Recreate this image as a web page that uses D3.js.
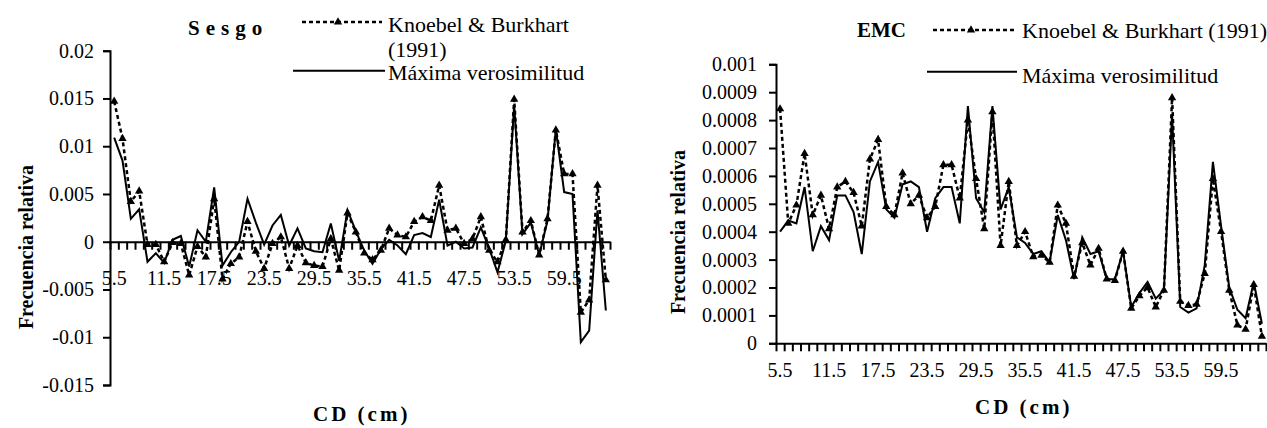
<!DOCTYPE html>
<html><head><meta charset="utf-8">
<script src="https://cdn.jsdelivr.net/npm/d3@7/dist/d3.min.js"></script>
<style>
html,body{margin:0;padding:0;background:#fff;}
svg{display:block;}
text{font-family:"Liberation Serif","Times New Roman",serif;fill:#000;}
</style></head>
<body>
<svg id="c" width="1267" height="428"></svg>
<script>
const categories = [5.5,6.5,7.5,8.5,9.5,10.5,11.5,12.5,13.5,14.5,15.5,16.5,17.5,18.5,19.5,20.5,21.5,22.5,23.5,24.5,25.5,26.5,27.5,28.5,29.5,30.5,31.5,32.5,33.5,34.5,35.5,36.5,37.5,38.5,39.5,40.5,41.5,42.5,43.5,44.5,45.5,46.5,47.5,48.5,49.5,50.5,51.5,52.5,53.5,54.5,55.5,56.5,57.5,58.5,59.5,60.5,61.5,62.5,63.5,64.5];
const xTickLabels = ["5.5","11.5","17.5","23.5","29.5","35.5","41.5","47.5","53.5","59.5"];
const seriesNames = ["Knoebel & Burkhart (1991)","Máxima verosimilitud"];

const sesgoKB = [0.0147,0.0108,0.0042,0.0053,-0.0003,-0.0003,-0.0021,-0.0001,-0.0002,-0.0035,
 -0.0005,-0.0016,0.0045,-0.0039,-0.0023,-0.0016,0.0021,-0.0010,-0.0028,-0.0002,
 0.0005,-0.0028,-0.0004,-0.0022,-0.0025,-0.0026,0.0003,-0.0030,0.0030,0.0010,
 -0.0012,-0.0019,-0.0009,0.0014,0.0007,0.0005,0.0021,0.0026,0.0022,0.0059,
 0.0012,0.0014,-0.0002,0.0003,0.0026,-0.0009,-0.0021,0.0002,0.0149,0.0010,
 0.0022,-0.0014,0.0024,0.0117,0.0071,0.0071,-0.0074,-0.0061,0.0059,-0.0040];
const sesgoML = [0.0109,0.0085,0.0024,0.0034,-0.0021,-0.0012,-0.0022,0.0002,0.0006,-0.0026,
 0.0012,0.0000,0.0057,-0.0025,-0.0011,0.0000,0.0045,0.0020,-0.0003,0.0017,
 0.0028,-0.0004,0.0014,-0.0007,-0.0010,-0.0011,0.0019,-0.0020,0.0033,0.0011,
 -0.0009,-0.0023,-0.0008,0.0002,-0.0004,-0.0013,0.0007,0.0009,0.0005,0.0044,
 -0.0004,0.0000,-0.0007,-0.0006,0.0015,-0.0007,-0.0032,0.0001,0.0143,0.0008,
 0.0020,-0.0014,0.0022,0.0118,0.0052,0.0050,-0.0105,-0.0093,0.0033,-0.0072];
const emcKB = [0.00084,0.00043,0.000495,0.00068,0.00046,0.00053,0.00041,0.00056,0.00058,0.00054,
 0.00042,0.00066,0.00073,0.00049,0.00046,0.00061,0.00050,0.00053,0.00045,0.00049,
 0.00064,0.00064,0.00052,0.00080,0.00059,0.00041,0.00083,0.00035,0.00058,0.00035,
 0.00040,0.00031,0.000315,0.00029,0.000495,0.00043,0.00024,0.00036,0.00028,0.00034,
 0.00023,0.000225,0.00033,0.000125,0.00017,0.00020,0.00013,0.00019,0.00088,0.00015,
 0.000135,0.00014,0.00025,0.00059,0.00040,0.00019,0.000065,0.00005,0.00021,0.000025];
const emcML = [0.00040,0.00044,0.00043,0.00056,0.00033,0.00042,0.00037,0.00053,0.00053,0.00047,
 0.00032,0.00058,0.00065,0.00048,0.00045,0.00057,0.00058,0.00056,0.00040,0.00052,
 0.00056,0.00056,0.00043,0.00085,0.00052,0.00047,0.00085,0.00048,0.00056,0.00038,
 0.00036,0.00032,0.00033,0.00029,0.00046,0.00037,0.00023,0.00038,0.00032,0.00033,
 0.00023,0.00023,0.00033,0.00013,0.00018,0.00022,0.00016,0.00019,0.00082,0.00013,
 0.00011,0.000125,0.00028,0.00065,0.00042,0.00020,0.00012,0.00009,0.00022,0.00007];

const sesgoTicks = [0.02,0.015,0.01,0.005,0,-0.005,-0.01,-0.015];
const sesgoTickLabels = ["0.02","0.015","0.01","0.005","0","-0.005","-0.01","-0.015"];
const emcTicks = [0.001,0.0009,0.0008,0.0007,0.0006,0.0005,0.0004,0.0003,0.0002,0.0001,0];
const emcTickLabels = ["0.001","0.0009","0.0008","0.0007","0.0006","0.0005","0.0004","0.0003","0.0002","0.0001","0"];

const svg = d3.select("#c");

function panel(o){
  const g = svg.append("g");
  const x = d3.scaleBand().domain(categories).range([o.x0,o.x1]);
  const xb = d3.scaleLinear().domain([0,categories.length]).range([o.x0,o.x1]);
  const y = d3.scaleLinear().domain([o.yMin,o.yMax]).range([o.yB,o.yT]);
  const cx = d => x(d)+x.bandwidth()/2;

  // y axis
  const ya = g.append("g").attr("transform",`translate(${o.x0},0)`)
    .call(d3.axisLeft(y).tickValues(o.ticks).tickFormat((d,i)=>o.tickLabels[i]).tickSize(7).tickPadding(o.yPad));
  ya.selectAll("text").style("font-size","20px");
  ya.select(".domain").attr("stroke-width",2);
  ya.selectAll(".tick line").attr("stroke-width",2);

  // x axis (category boundaries)
  const y0 = y(0);
  const xa = g.append("g").attr("transform",`translate(0,${y0})`)
    .call(d3.axisBottom(xb).tickValues(d3.range(0,categories.length+1)).tickFormat("").tickSize(8).tickSizeOuter(0));
  xa.select(".domain").attr("stroke-width",2);
  xa.selectAll(".tick line").attr("stroke-width",2);
  const xl = g.append("g").attr("transform",`translate(0,${y0})`)
    .call(d3.axisBottom(x).tickValues(categories.filter(c=>xTickLabels.includes(String(c)))).tickFormat(d=>String(d)).tickSize(0).tickPadding(o.xPad));
  xl.select(".domain").remove();
  xl.selectAll("text").style("font-size","20px");

  // lines
  const line = d3.line().x((d,i)=>cx(categories[i])).y(d=>y(d));
  g.append("path").datum(o.ml).attr("d",line).attr("fill","none").attr("stroke","#000").attr("stroke-width",2).attr("stroke-linejoin","miter");
  g.append("path").datum(o.kb).attr("d",line).attr("fill","none").attr("stroke","#000").attr("stroke-width",2.5).attr("stroke-dasharray","4,3");
  g.selectAll(".m").data(o.kb).join("path")
    .attr("transform",(d,i)=>`translate(${cx(categories[i])},${y(d)})`)
    .attr("d",d3.symbol(d3.symbolTriangle,30)).attr("fill","#000");

  // axis titles
  g.append("text").attr("transform",`translate(${o.ytX},${o.ytY}) rotate(-90)`)
    .attr("text-anchor","middle").style("font-size","20px").style("font-weight","bold").text("Frecuencia relativa");
  g.append("text").attr("x",o.xtX).attr("y",o.xtY).style("font-size","21px").style("font-weight","bold")
    .style("letter-spacing","3px").text("CD (cm)");
  g.append("text").attr("x",o.tX).attr("y",o.tY).style("font-size","21px").style("font-weight","bold")
    .style("letter-spacing",o.tLS).text(o.title);

  // legend
  const lg = g.append("g");
  lg.append("line").attr("x1",o.lg.d1).attr("x2",o.lg.d2).attr("y1",o.lg.dy).attr("y2",o.lg.dy)
    .attr("stroke","#000").attr("stroke-width",2.5).attr("stroke-dasharray","4,3");
  lg.append("path").attr("transform",`translate(${(o.lg.d1+o.lg.d2)/2-4},${o.lg.dy})`).attr("d",d3.symbol(d3.symbolTriangle,30)).attr("fill","#000");
  lg.append("line").attr("x1",o.lg.s1).attr("x2",o.lg.s2).attr("y1",o.lg.sy).attr("y2",o.lg.sy)
    .attr("stroke","#000").attr("stroke-width",2);
  o.lg.kbLines.forEach((t,i)=>{
    lg.append("text").attr("x",o.lg.tx).attr("y",o.lg.kbY[i]).style("font-size","22px").text(t);
  });
  lg.append("text").attr("x",o.lg.tx).attr("y",o.lg.mlY).style("font-size","22px").text(seriesNames[1]);
}

panel({x0:110,x1:610,yMin:-0.015,yMax:0.02,yB:385,yT:50.7,ticks:sesgoTicks,tickLabels:sesgoTickLabels,
  yPad:9,xPad:29,kb:sesgoKB,ml:sesgoML,ytX:33,ytY:247,xtX:313,xtY:421,tX:188,tY:35,tLS:"6px",title:"Sesgo",
  lg:{d1:302,d2:382,dy:22,s1:293,s2:385,sy:70.7,tx:388,kbLines:["Knoebel & Burkhart","(1991)"],kbY:[31.7,57],mlY:80}});
panel({x0:776,x1:1266,yMin:0,yMax:0.001,yB:343.3,yT:64.3,ticks:emcTicks,tickLabels:emcTickLabels,
  yPad:12,xPad:20,kb:emcKB,ml:emcML,ytX:685,ytY:232,xtX:975,xtY:414,tX:857,tY:36.7,tLS:"0px",title:"EMC",
  lg:{d1:933,d2:1017,dy:30,s1:927,s2:1017,sy:71.7,tx:1022,kbLines:[seriesNames[0]],kbY:[38.3],mlY:83.3}});
</script>
</body></html>
